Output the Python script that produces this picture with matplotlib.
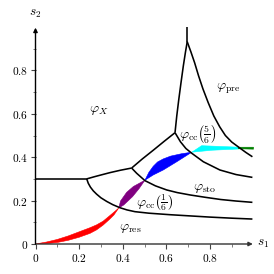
import matplotlib
matplotlib.use("Agg")
import matplotlib.pyplot as plt

plt.rcParams['mathtext.fontset'] = 'cm'
plt.rcParams['font.family'] = ['DejaVu Serif']

# ---- boundary curves (s1, s2) ----
hline_x = [0.0, 0.235]
hline_y = [0.30, 0.30]

upper_left_x = [0.235, 0.27, 0.30, 0.342, 0.39, 0.441]
upper_left_y = [0.300, 0.310, 0.318, 0.329, 0.340, 0.350]

lower_x = [0.235, 0.242, 0.252, 0.265, 0.28, 0.30, 0.327, 0.355, 0.388, 0.42,
           0.456, 0.52, 0.617, 0.70, 0.80, 0.90, 0.995]
lower_y = [0.300, 0.280, 0.262, 0.245, 0.230, 0.213, 0.196, 0.181, 0.167, 0.157,
           0.149, 0.142, 0.135, 0.130, 0.124, 0.119, 0.115]

j1j2_x = [0.441, 0.49, 0.54, 0.59, 0.64]
j1j2_y = [0.350, 0.392, 0.432, 0.473, 0.513]

mid_x = [0.441, 0.464, 0.502, 0.55, 0.602, 0.65, 0.709, 0.78, 0.85, 0.92, 0.995]
mid_y = [0.350, 0.326, 0.292, 0.268, 0.249, 0.237, 0.226, 0.215, 0.205, 0.198, 0.192]

spike_left_x = [0.64, 0.648, 0.657, 0.667, 0.678, 0.688, 0.696]
spike_left_y = [0.513, 0.590, 0.664, 0.740, 0.820, 0.885, 0.932]

spike_top_x = [0.696, 0.696]
spike_top_y = [0.932, 1.0]

spike_right_x = [0.696, 0.713, 0.730, 0.748, 0.768, 0.792, 0.818, 0.845, 0.871,
                 0.90, 0.935, 0.965, 0.995]
spike_right_y = [0.932, 0.885, 0.835, 0.775, 0.715, 0.652, 0.590, 0.540, 0.500,
                 0.470, 0.444, 0.422, 0.402]

upper_right_x = [0.64, 0.665, 0.69, 0.717, 0.77, 0.846, 0.92, 0.995]
upper_right_y = [0.513, 0.471, 0.440, 0.418, 0.379, 0.341, 0.320, 0.307]

# ---- coloured paths (polygon outlines) ----
red_x = [0.0, 0.05, 0.10, 0.15, 0.20, 0.25, 0.28, 0.31, 0.34, 0.365, 0.382,
         0.36, 0.34, 0.31, 0.28, 0.25, 0.20, 0.15, 0.10, 0.05, 0.0]
red_y = [0.0, 0.009, 0.021, 0.037, 0.056, 0.075, 0.088, 0.105, 0.130, 0.151, 0.166,
         0.134, 0.114, 0.087, 0.065, 0.049, 0.031, 0.017, 0.007, 0.002, 0.0]

purple_x = [0.382, 0.39, 0.418, 0.449, 0.502, 0.475, 0.445, 0.405, 0.382]
purple_y = [0.166, 0.198, 0.238, 0.265, 0.294, 0.255, 0.218, 0.180, 0.166]

blue_x = [0.502, 0.52, 0.54, 0.56, 0.586, 0.62, 0.67, 0.717, 0.648, 0.586, 0.54, 0.502]
blue_y = [0.294, 0.330, 0.358, 0.378, 0.392, 0.405, 0.416, 0.423, 0.379, 0.341, 0.318, 0.294]

cyan_x = [0.717, 0.762, 0.935, 0.935, 0.808, 0.717]
cyan_y = [0.423, 0.453, 0.446, 0.438, 0.432, 0.423]

green_x = [0.93, 1.0, 1.0, 0.93]
green_y = [0.446, 0.446, 0.437, 0.439]

xticks = [0.0, 0.2, 0.4, 0.6, 0.8]
xticklabels = ['$0$', '$0.2$', '$0.4$', '$0.6$', '$0.8$']
yticks = [0.0, 0.2, 0.4, 0.6, 0.8]
yticklabels = ['$0$', '$0.2$', '$0.4$', '$0.6$', '$0.8$']
minor_ticks = [0.1, 0.3, 0.5, 0.7, 0.9]

region_labels = [
    (0.288, 0.617, r'$\varphi_X$'),
    (0.886, 0.713, r'$\varphi_{\mathrm{pre}}$'),
    (0.745, 0.507, r'$\varphi_{\mathrm{cc}}\left(\frac{5}{6}\right)$'),
    (0.778, 0.257, r'$\varphi_{\mathrm{sto}}$'),
    (0.545, 0.190, r'$\varphi_{\mathrm{cc}}\left(\frac{1}{6}\right)$'),
    (0.435, 0.074, r'$\varphi_{\mathrm{res}}$'),
]

fig = plt.figure(figsize=(2.74, 2.74), dpi=100)
ax = fig.add_axes([35.5/274, 30/274, 218/274, 217/274])
ax.set_xlim(0, 1.0)
ax.set_ylim(0, 1.0)

for xs, ys, c in [(red_x, red_y, '#ff0000'), (purple_x, purple_y, '#800080'),
                  (blue_x, blue_y, '#0000ff'), (cyan_x, cyan_y, '#00ffff'),
                  (green_x, green_y, '#008000')]:
    ax.fill(xs, ys, color=c, lw=0.4, zorder=2)

lw = 1.15
for xs, ys in [(hline_x, hline_y), (upper_left_x, upper_left_y), (lower_x, lower_y),
               (j1j2_x, j1j2_y), (mid_x, mid_y), (spike_left_x, spike_left_y),
               (spike_top_x, spike_top_y), (spike_right_x, spike_right_y),
               (upper_right_x, upper_right_y)]:
    ax.plot(xs, ys, color='black', lw=lw, zorder=3, solid_capstyle='butt',
            solid_joinstyle='round')

for x, y, t in region_labels:
    ax.text(x, y, t, fontsize=10, ha='center', va='center', zorder=4)

for s in ['top', 'right', 'left', 'bottom']:
    ax.spines[s].set_visible(False)

ax.annotate('', xy=(0.997, 0), xytext=(0, 0), xycoords='data',
            arrowprops=dict(arrowstyle='-|>', color='#333333', lw=1.0,
                            mutation_scale=6, shrinkA=0, shrinkB=0),
            annotation_clip=False, zorder=5)
ax.annotate('', xy=(0, 0.997), xytext=(0, 0), xycoords='data',
            arrowprops=dict(arrowstyle='-|>', color='black', lw=1.0,
                            mutation_scale=6, shrinkA=0, shrinkB=0),
            annotation_clip=False, zorder=5)

ax.set_xticks(xticks)
ax.set_xticklabels(xticklabels)
ax.set_yticks(yticks)
ax.set_yticklabels(yticklabels)
ax.set_xticks(minor_ticks, minor=True)
ax.set_yticks(minor_ticks, minor=True)
ax.tick_params(which='major', direction='out', length=3.5, width=0.8,
               color='#444444', labelsize=8.2, pad=2)
ax.tick_params(which='minor', direction='out', length=2, width=0.6,
               color='#666666')

ax.text(1.015, 0.0, r'$s_1$', fontsize=9.5, ha='left', va='center',
        transform=ax.transData, clip_on=False)
ax.text(0.0, 1.03, r'$s_2$', fontsize=9.5, ha='center', va='bottom',
        transform=ax.transData, clip_on=False)

fig.savefig('out.png', dpi=100)
